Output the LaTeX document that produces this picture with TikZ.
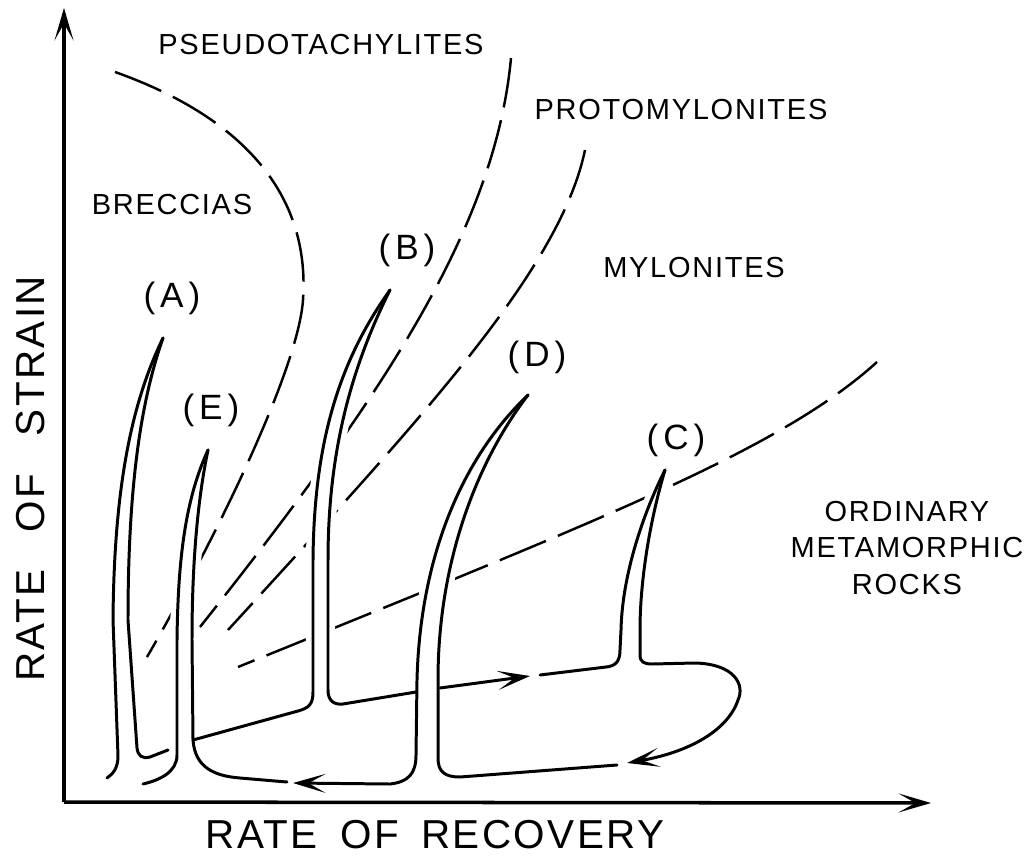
\documentclass[tikz,border=0pt]{standalone}
\usepackage{fontspec}
\setmainfont{Liberation Sans}
\newfontfamily\lettering[LetterSpace=6]{Liberation Sans}
\newfontfamily\tubefont[LetterSpace=14]{Liberation Sans}
\usetikzlibrary{arrows.meta}

\begin{document}
\begin{tikzpicture}[x=0.02cm,y=-0.02cm,>={Stealth[length=6.5mm,width=3.8mm,inset=3.4mm]},
  wall/.style={line width=1.7pt,line join=round,line cap=round},
  flow/.style={line width=1.7pt,line join=round,line cap=round,->},
  border/.style={line width=1.4pt,dash pattern=on 1cm off 0.26cm},
  axis/.style={line width=2pt,->},
  halo/.style={draw=white,fill=white,line width=8pt,line join=round},
  rock/.style={font=\lettering\fontsize{16.5}{21}\selectfont,align=center,inner sep=0pt},
  pathlabel/.style={font=\tubefont\fontsize{20}{22}\selectfont,inner sep=0pt},
  axislabel/.style={font=\lettering\fontsize{23}{26}\selectfont,inner sep=0pt}]
  \useasboundingbox (0,0) rectangle (1033,861);
  \coordinate (O) at (64,802);
  \coordinate (ytip) at (64,8);
  \coordinate (xtip) at (931,803);
  \draw[axis] (O) -- (ytip);
  \draw[axis] (O) -- (xtip);
  \node[axislabel,rotate=90] (strain) at (31,479) {RATE\hspace{0.75cm}OF\hspace{0.75cm}STRAIN};
  \node[axislabel] (recovery) at (435,835) {RATE\hspace{0.45cm}OF\hspace{0.45cm}RECOVERY};

  \draw[border] (115,72) .. controls (250,120) and (310,200) .. (303,300) .. controls (298,370) and (215,540) .. (147,657);
  \draw[border] (511,58) .. controls (495,230) and (380,400) .. (200,627);
  \draw[border] (585,150) .. controls (560,270) and (420,420) .. (228,630);
  \draw[border] (877,362) .. controls (780,450) and (600,520) .. (238,667);

  \path[halo] (118,756) -- (113,620) .. controls (114,500) and (128,410) .. (163,338) .. controls (142,398) and (128,480) .. (128,620) -- (137,748) -- cycle;
  \path[halo] (177,755) -- (177,640) .. controls (178,560) and (185,500) .. (208,450) .. controls (198,498) and (192,560) .. (192,640) -- (193,740) -- cycle;
  \path[halo] (313,692) -- (313,560) .. controls (314,440) and (340,360) .. (390,290) .. controls (352,366) and (328,450) .. (328,560) -- (328,690) -- cycle;
  \path[halo] (416,755) -- (417,680) .. controls (420,560) and (460,460) .. (528,395) .. controls (478,460) and (438,560) .. (438,680) -- (438,758) -- cycle;
  \path[halo] (620,650) -- (621,630) .. controls (622,580) and (640,520) .. (665,470) .. controls (650,520) and (640,580) .. (640,630) -- (640,655) -- cycle;

  \coordinate (tipA) at (163,338);
  \coordinate (tipE) at (208,450);
  \coordinate (tipB) at (390,290);
  \coordinate (tipD) at (528,395);
  \coordinate (tipC) at (665,470);
  \coordinate (baseE) at (193,740);
  \coordinate (leftend) at (293,783);
  \coordinate (midend) at (530,676);
  \coordinate (loopend) at (627,763);

  \draw[wall] (107,778) .. controls (113,774) and (118,768) .. (118,756) -- (113,620) .. controls (114,500) and (128,410) .. (tipA);
  \draw[wall] (tipA) .. controls (142,398) and (128,480) .. (128,620) -- (137,748) .. controls (138,756) and (142,759) .. (150,757) -- (168,750);
  \draw[wall] (143,784) .. controls (160,780) and (177,772) .. (177,755) -- (177,640) .. controls (178,560) and (185,500) .. (tipE);
  \draw[wall] (tipE) .. controls (198,498) and (192,560) .. (192,640) -- (baseE) -- (298,711) .. controls (309,708) and (313,704) .. (313,692) -- (313,560) .. controls (314,440) and (340,360) .. (tipB);
  \draw[wall] (baseE) .. controls (195,768) and (215,776) .. (240,778) -- (287,782);
  \draw[wall] (tipB) .. controls (352,366) and (328,450) .. (328,560) -- (328,690) .. controls (328,700) and (333,705) .. (343,704) -- (416,692);
  \draw[flow] (tipD) .. controls (460,460) and (420,560) .. (417,680) -- (416,755) .. controls (416,774) and (408,782) .. (390,784) -- (leftend);
  \draw[wall] (tipD) .. controls (478,460) and (438,560) .. (438,680) -- (438,758) .. controls (438,772) and (445,777) .. (460,777) -- (617,765);
  \draw[flow] (440,688) -- (midend);
  \draw[wall] (540,675) -- (606,667) .. controls (616,666) and (620,661) .. (620,650) -- (621,630) .. controls (622,580) and (640,520) .. (tipC);
  \draw[flow] (tipC) .. controls (650,520) and (640,580) .. (640,630) -- (640,655) .. controls (640,662) and (644,664) .. (652,664) -- (695,663) .. controls (735,664) and (745,685) .. (738,700) .. controls (728,730) and (690,752) .. (loopend);

  \node[rock] (pseudo) at (321,45) {PSEUDOTACHYLITES};
  \node[rock] (proto) at (681,110) {PROTOMYLONITES};
  \node[rock] (breccia) at (172,205) {BRECCIAS};
  \node[rock] (mylonite) at (694,268) {MYLONITES};
  \node[rock] (ordinary) at (907,548) {ORDINARY\\METAMORPHIC\\ROCKS};
  \node[pathlabel] (labA) at (172,298) {(A)};
  \node[pathlabel] (labB) at (407,250) {(B)};
  \node[pathlabel] (labE) at (211,410) {(E)};
  \node[pathlabel] (labD) at (537,357) {(D)};
  \node[pathlabel] (labC) at (676,440) {(C)};
\end{tikzpicture}
\end{document}
